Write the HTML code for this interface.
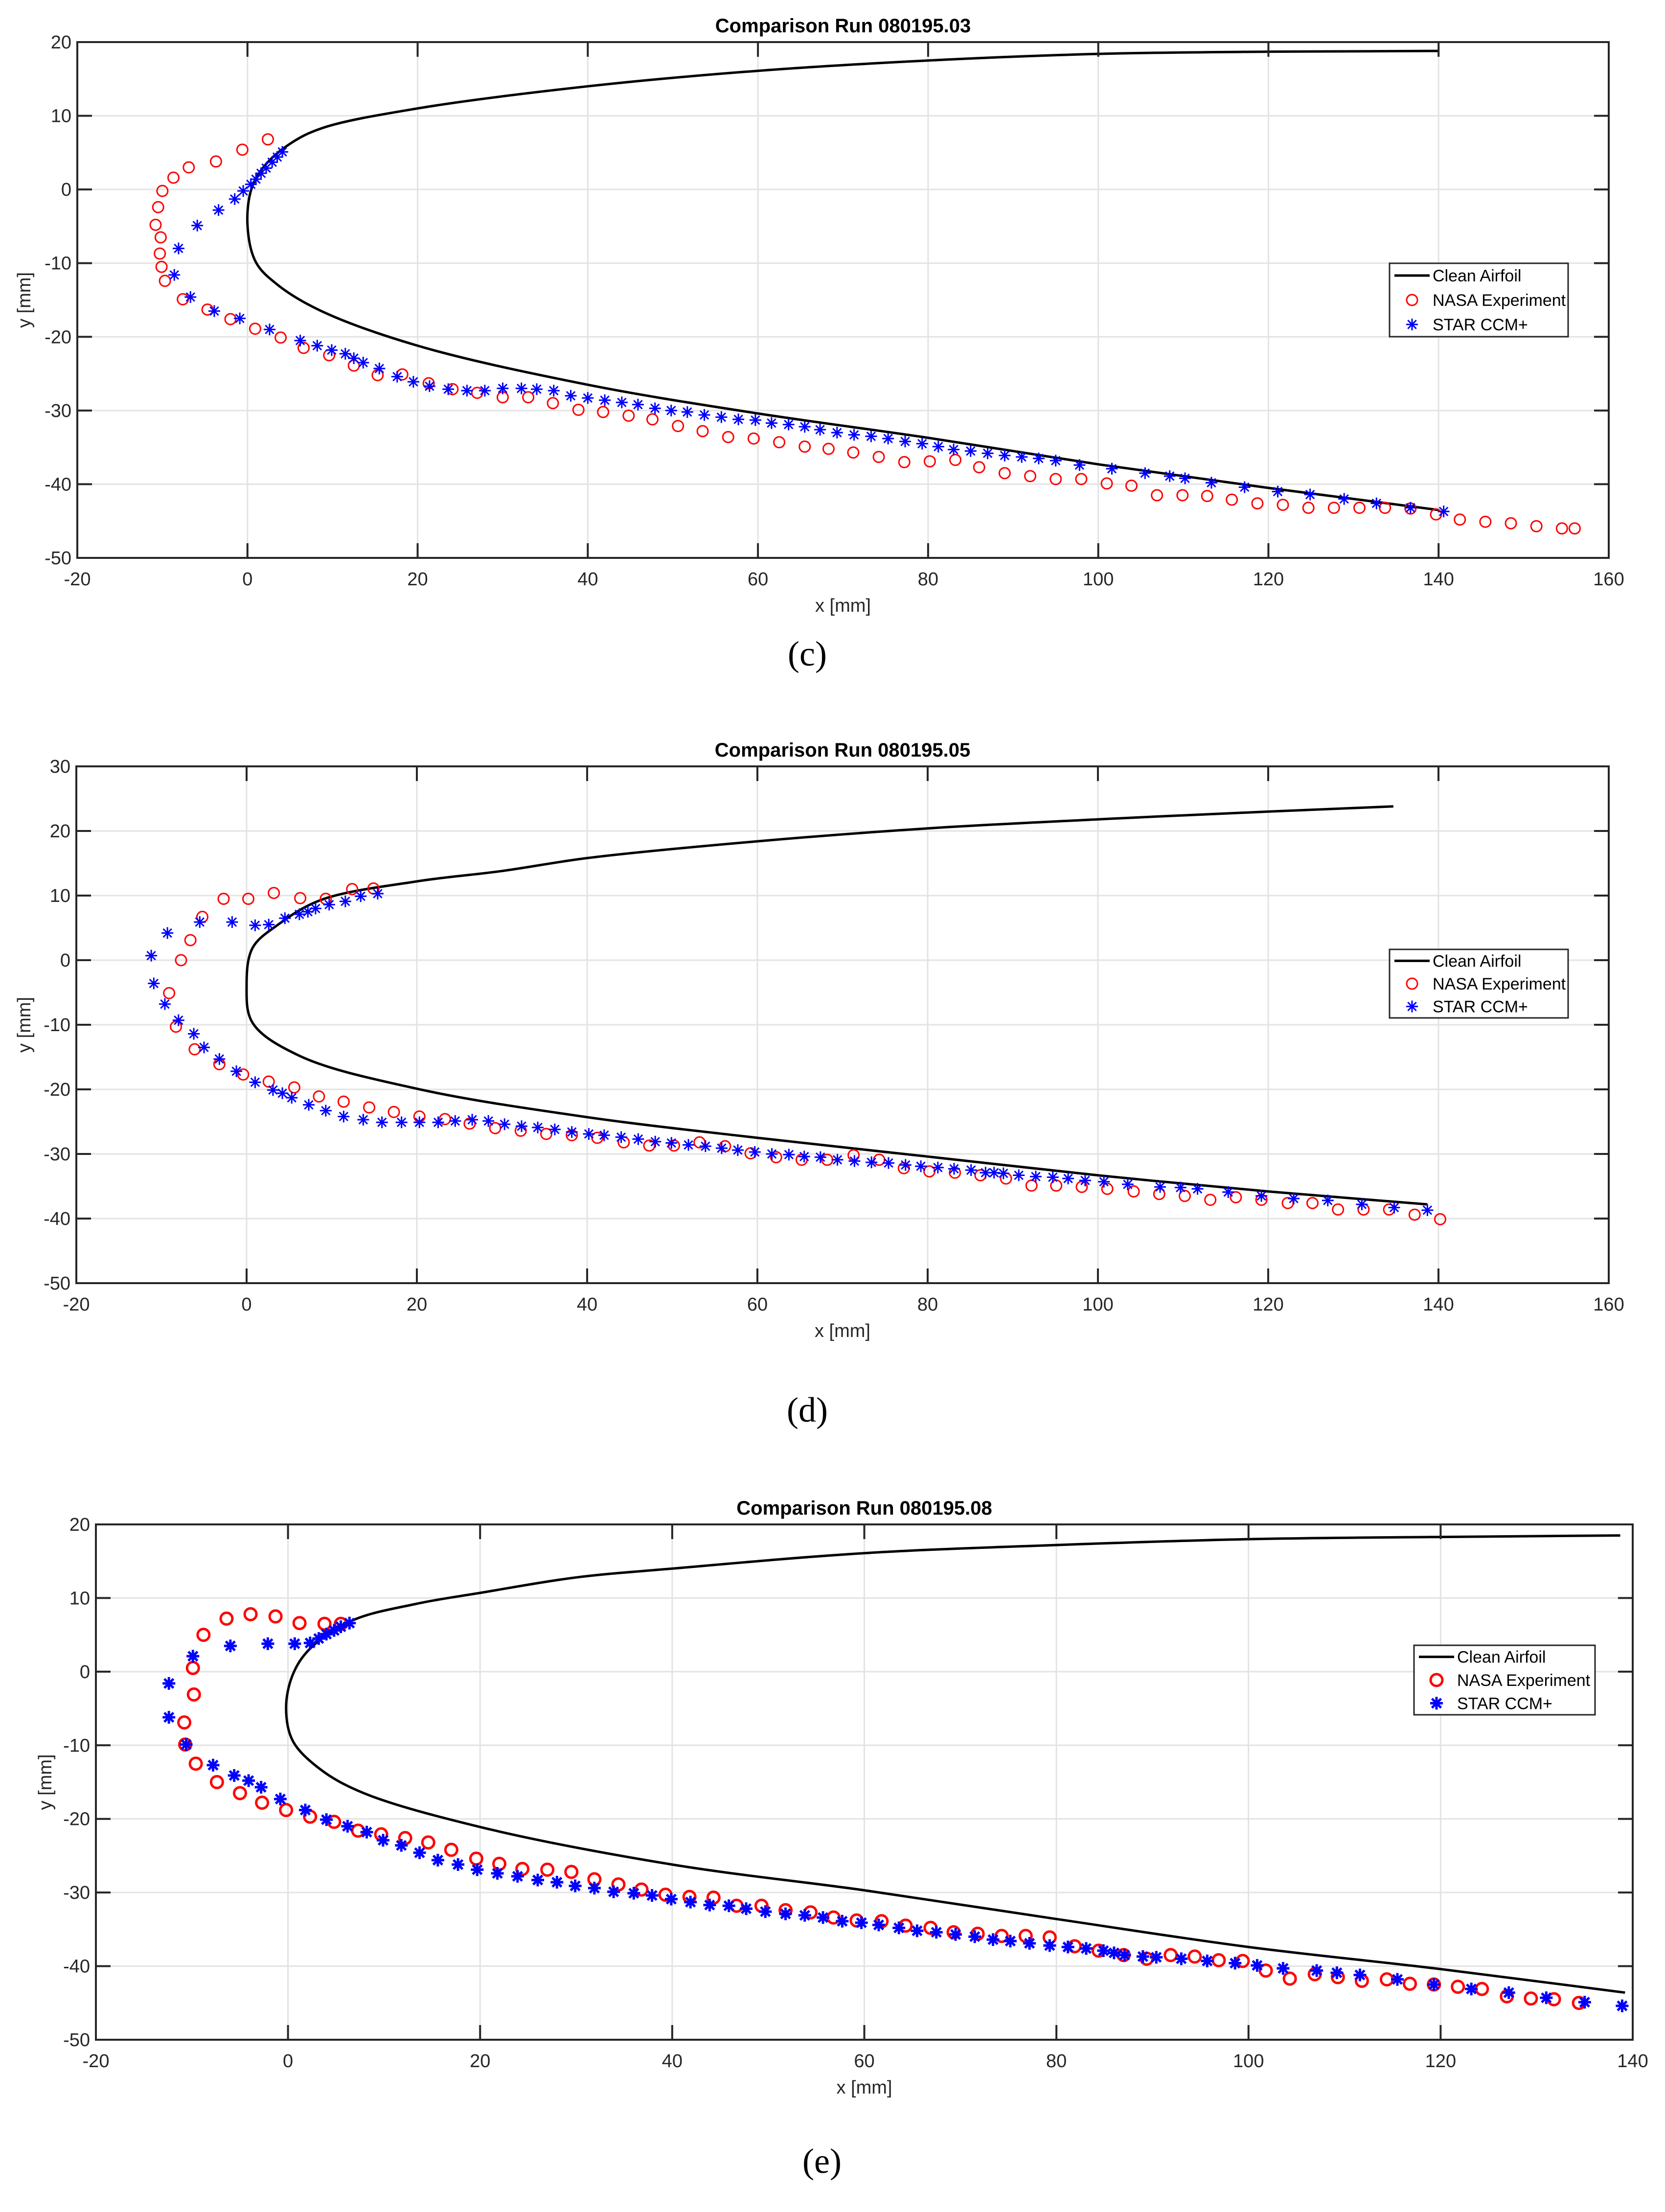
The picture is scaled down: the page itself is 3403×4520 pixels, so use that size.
<!DOCTYPE html>
<html><head><meta charset="utf-8"><style>
html,body{margin:0;padding:0;background:#fff;}
svg{display:block;}
</style></head><body>
<svg id="fig" xmlns="http://www.w3.org/2000/svg" width="3403" height="4520" viewBox="0 0 3403 4520"></svg>
<script>
// ---------- Chart (c) ----------
const p1AirX=[140,120,100,80,60,40,20,8.7,5,2,0.5,0,1,3.5,8.5,20,40,60,80,100,120,140];
const p1AirY=[18.8,18.7,18.4,17.5,16.1,14,11,8.3,6.2,3.2,0.2,-4.8,-9.9,-12.9,-16.4,-21.2,-26.5,-30.4,-33.7,-37.3,-40.5,-43.5];
const p1NasaX=[2.4,-0.6,-3.7,-6.9,-8.7,-10,-10.5,-10.8,-10.2,-10.3,-10.1,-9.7,-7.6,-4.7,-2,0.9,3.9,6.6,9.6,12.5,15.3,18.2,21.3,24.1,27,30,33,35.9,38.9,41.8,44.8,47.6,50.6,53.5,56.5,59.5,62.5,65.5,68.3,71.2,74.2,77.2,80.2,83.2,86,89,92,95,98,101,103.9,106.9,109.9,112.8,115.7,118.7,121.7,124.7,127.7,130.7,133.7,136.7,139.7,142.5,145.5,148.5,151.5,154.5,156];
const p1NasaY=[6.8,5.4,3.8,3.0,1.6,-0.2,-2.4,-4.8,-6.5,-8.7,-10.5,-12.4,-14.9,-16.3,-17.6,-18.9,-20.1,-21.5,-22.5,-23.9,-25.2,-25.1,-26.3,-27.1,-27.6,-28.2,-28.2,-29.0,-29.9,-30.2,-30.7,-31.2,-32.1,-32.8,-33.6,-33.8,-34.3,-34.9,-35.2,-35.7,-36.3,-37,-36.9,-36.7,-37.7,-38.5,-38.9,-39.3,-39.3,-39.9,-40.2,-41.5,-41.5,-41.6,-42.1,-42.6,-42.8,-43.2,-43.2,-43.2,-43.2,-43.3,-44.1,-44.8,-45.1,-45.3,-45.7,-46,-46];
const p1StarX=[4.1,3.5,2.9,2.2,1.6,1,0.4,-0.5,-1.5,-3.4,-5.9,-8.1,-8.6,-6.7,-3.9,-0.9,2.6,6.2,8.2,9.9,11.5,12.5,13.6,15.5,17.6,19.5,21.4,23.6,25.8,27.9,30,32.2,34,36,38,40,42,44,45.9,47.9,49.8,51.7,53.7,55.7,57.7,59.7,61.6,63.6,65.5,67.3,69.3,71.3,73.3,75.3,77.3,79.3,81.2,83,85,87,89,91,93,95,97.8,101.6,105.5,108.4,110.2,113.3,117.2,121.1,124.9,128.9,132.7,136.7,140.6];
const p1StarY=[5.1,4.4,3.7,2.9,2.2,1.4,0.7,-0.2,-1.3,-2.8,-4.9,-8,-11.6,-14.6,-16.5,-17.5,-19,-20.5,-21.2,-21.8,-22.3,-22.9,-23.5,-24.3,-25.4,-26.1,-26.7,-27.1,-27.3,-27.3,-27,-27,-27.1,-27.3,-28,-28.3,-28.6,-28.9,-29.2,-29.7,-30,-30.2,-30.6,-30.9,-31.2,-31.3,-31.7,-31.9,-32.2,-32.6,-33,-33.3,-33.5,-33.8,-34.2,-34.5,-34.9,-35.3,-35.5,-35.8,-36.1,-36.3,-36.5,-36.8,-37.4,-37.9,-38.5,-38.9,-39.2,-39.8,-40.4,-41,-41.4,-42,-42.6,-43.2,-43.7];
const p1XTicks=[-20,0,20,40,60,80,100,120,140,160];
const p1YTicks=[-50,-40,-30,-20,-10,0,10,20];

// ---------- Chart (d) ----------
const p2AirX=[134.7,120,100,80,60,40,30,20,8.7,3.7,0.7,0,0.7,6.2,20,40,60,80,100,120,138.7];
const p2AirY=[23.8,23,21.8,20.4,18.4,15.8,13.8,12.2,9.3,5.5,1.9,-3.9,-9.7,-14.8,-19.9,-24.3,-27.5,-30.4,-33.3,-35.8,-37.8];
const p2NasaX=[-2.7,0.2,3.2,6.3,9.3,12.4,14.9,-5.2,-6.6,-7.7,-9.1,-8.3,-6.1,-3.2,-0.4,2.6,5.6,8.5,11.4,14.4,17.3,20.3,23.3,26.2,29.2,32.2,35.2,38.2,41.2,44.3,47.3,50.2,53.2,56.2,59.2,62.2,65.2,68.2,71.3,74.3,77.2,80.2,83.2,86.2,89.2,92.2,95.1,98.1,101.1,104.2,107.2,110.2,113.2,116.2,119.2,122.3,125.2,128.2,131.2,134.2,137.2,140.2];
const p2NasaY=[9.5,9.5,10.4,9.6,9.5,11,11.1,6.7,3.1,0,-5.1,-10.3,-13.8,-16.1,-17.7,-18.8,-19.7,-21.1,-21.9,-22.8,-23.5,-24.2,-24.6,-25.3,-26,-26.4,-26.9,-27.1,-27.5,-28.2,-28.7,-28.7,-28.2,-28.8,-29.9,-30.5,-30.9,-30.9,-30.2,-30.9,-32.2,-32.7,-32.9,-33.3,-33.8,-34.9,-34.9,-35.1,-35.4,-35.8,-36.2,-36.5,-37.1,-36.7,-37.1,-37.6,-37.6,-38.6,-38.6,-38.6,-39.4,-40.1];
const p2StarX=[-11.2,-9.3,-5.5,-1.7,1,2.6,4.5,6.2,7.2,8.1,9.7,11.6,13.4,15.4,-10.9,-9.6,-8,-6.2,-5,-3.2,-1.2,1,3.1,4.2,5.3,7.3,9.3,11.4,13.7,15.9,18.2,20.3,22.5,24.5,26.5,28.4,30.3,32.3,34.2,36.2,38.2,40.2,42,44,46,48,49.9,51.9,53.9,55.8,57.7,59.7,61.7,63.7,65.5,67.4,69.4,71.4,73.4,75.4,77.4,79.2,81.2,83.1,85.1,86.8,87.8,88.9,90.7,92.7,94.7,96.5,98.5,100.7,103.5,107.3,109.7,111.7,115.3,119.2,123,127,131,134.8,138.7];
const p2StarY=[0.7,4.2,5.9,5.9,5.4,5.5,6.5,7.1,7.5,8,8.6,9.1,9.9,10.3,-3.6,-6.8,-9.3,-11.4,-13.5,-15.3,-17.2,-18.9,-20.1,-20.6,-21.3,-22.4,-23.3,-24.2,-24.7,-25.1,-25.1,-25.1,-25.1,-24.9,-24.7,-24.9,-25.4,-25.7,-25.9,-26.2,-26.6,-26.9,-27.1,-27.4,-27.7,-28.1,-28.3,-28.6,-28.8,-29.1,-29.4,-29.7,-30,-30.1,-30.4,-30.5,-30.9,-31.1,-31.3,-31.4,-31.7,-31.9,-32.1,-32.3,-32.5,-32.9,-32.9,-33,-33.3,-33.5,-33.6,-33.8,-34.1,-34.3,-34.7,-35.1,-35.2,-35.4,-35.9,-36.5,-36.9,-37.2,-37.8,-38.3,-38.7];
const p2XTicks=[-20,0,20,40,60,80,100,120,140,160];
const p2YTicks=[-50,-40,-30,-20,-10,0,10,20,30];

// ---------- Chart (e) ----------
const p3AirX=[138.7,120,100,80,60,40,30,20,13.3,6.6,2.2,0.5,-0.2,0.5,3.3,7.7,20,40,60,80,100,120,139.2];
const p3AirY=[18.5,18.3,18,17.2,16.1,14,12.8,10.7,9.2,6.9,3.0,-0.4,-4.9,-9.4,-13.2,-16.4,-21.1,-26.2,-29.7,-33.6,-37.4,-40.4,-43.6];
const p3NasaX=[-6.4,-3.9,-1.3,1.2,3.8,5.5,-8.8,-9.9,-9.8,-10.8,-10.7,-9.6,-7.4,-5,-2.7,-0.2,2.3,4.8,7.3,9.7,12.2,14.6,17,19.6,22,24.4,27,29.5,31.9,34.4,36.8,39.3,41.8,44.3,46.7,49.3,51.8,54.4,56.8,59.2,61.8,64.3,66.9,69.3,71.8,74.3,76.8,79.3,81.9,84.4,87,89.4,91.9,94.4,96.9,99.4,101.8,104.3,106.9,109.3,111.8,114.4,116.8,119.3,121.8,124.3,126.9,129.4,131.8,134.4];
const p3NasaY=[7.2,7.8,7.5,6.6,6.5,6.5,5,0.5,-3.1,-6.9,-9.9,-12.5,-15,-16.5,-17.8,-18.8,-19.7,-20.4,-21.6,-22.1,-22.6,-23.2,-24.2,-25.4,-26.1,-26.8,-26.9,-27.2,-28.2,-28.9,-29.6,-30.3,-30.6,-30.7,-31.8,-31.8,-32.4,-32.7,-33.4,-33.8,-33.9,-34.5,-34.8,-35.4,-35.6,-35.9,-35.9,-36.1,-37.3,-37.9,-38.5,-39,-38.5,-38.7,-39.2,-39.3,-40.6,-41.7,-41.1,-41.5,-42,-41.8,-42.4,-42.5,-42.8,-43.1,-44.1,-44.4,-44.5,-45];
const p3StarX=[-12.4,-12.4,-9.9,-6,-2.1,0.7,2.3,3.2,4,4.8,5.5,6.4,-10.6,-7.8,-5.6,-4.1,-2.8,-0.8,1.8,4,6.2,8.2,9.9,11.8,13.7,15.6,17.7,19.7,21.8,23.9,26,28,29.9,31.9,33.9,36,37.9,39.9,41.9,43.9,45.9,47.7,49.7,51.8,53.8,55.7,57.7,59.7,61.5,63.6,65.5,67.5,69.5,71.5,73.4,75.2,77.2,79.3,81.2,83.1,84.9,86,87.1,89,90.4,93,95.7,98.6,100.9,103.6,107.1,109.2,111.6,115.5,119.3,123.2,127.1,131,135,138.9];
const p3StarY=[-1.6,-6.2,2.1,3.5,3.8,3.8,3.9,4.5,5.1,5.6,6.1,6.6,-9.9,-12.7,-14.1,-14.8,-15.7,-17.3,-18.8,-20.1,-21,-21.8,-22.9,-23.6,-24.6,-25.6,-26.2,-26.9,-27.4,-27.8,-28.3,-28.6,-29.1,-29.4,-29.9,-30.1,-30.4,-30.9,-31.3,-31.7,-31.8,-32.2,-32.6,-32.9,-33.1,-33.4,-33.9,-34.1,-34.4,-34.8,-35.2,-35.4,-35.7,-36,-36.4,-36.6,-36.9,-37.2,-37.4,-37.6,-37.9,-38.2,-38.5,-38.7,-38.8,-39,-39.3,-39.6,-39.9,-40.3,-40.6,-40.9,-41.2,-41.8,-42.5,-43.1,-43.6,-44.3,-44.9,-45.4];
const p3XTicks=[-20,0,20,40,60,80,100,120,140];
const p3YTicks=[-50,-40,-30,-20,-10,0,10,20];

const NS='http://www.w3.org/2000/svg';
const svg=document.getElementById('fig');
function mk(tag,attrs,parent){const e=document.createElementNS(NS,tag);for(const k in attrs)e.setAttribute(k,attrs[k]);(parent||svg).appendChild(e);return e;}
function txt(s,attrs,parent){const e=mk('text',attrs,parent);e.textContent=s;return e;}
// centripetal Catmull-Rom -> cubic Bezier
function smoothPath(pts){
  const n=pts.length;
  const P=[[2*pts[0][0]-pts[1][0],2*pts[0][1]-pts[1][1]]].concat(pts,[[2*pts[n-1][0]-pts[n-2][0],2*pts[n-1][1]-pts[n-2][1]]]);
  const dist=(a,b)=>Math.max(1e-3,Math.pow(Math.hypot(b[0]-a[0],b[1]-a[1]),0.5));
  let d='M'+pts[0][0].toFixed(1)+','+pts[0][1].toFixed(1);
  for(let i=1;i<P.length-2;i++){
    const p0=P[i-1],p1=P[i],p2=P[i+1],p3=P[i+2];
    const d1=dist(p0,p1),d2=dist(p1,p2),d3=dist(p2,p3);
    const c1=[0,1].map(k=>{
      const m=(p1[k]-p0[k])/d1-(p2[k]-p0[k])/(d1+d2)+(p2[k]-p1[k])/d2;
      return p1[k]+m*d2/3;});
    const c2=[0,1].map(k=>{
      const m=(p2[k]-p1[k])/d2-(p3[k]-p1[k])/(d2+d3)+(p3[k]-p2[k])/d3;
      return p2[k]-m*d2/3;});
    d+=' C'+c1[0].toFixed(1)+','+c1[1].toFixed(1)+' '+c2[0].toFixed(1)+','+c2[1].toFixed(1)+' '+p2[0].toFixed(1)+','+p2[1].toFixed(1);
  }
  return d;
}
function star(g,cx,cy,r,sw){
  const s=r*0.72;
  const d='M'+(cx-r)+','+cy+'H'+(cx+r)+'M'+cx+','+(cy-r)+'V'+(cy+r)+'M'+(cx-s)+','+(cy-s)+'L'+(cx+s)+','+(cy+s)+'M'+(cx-s)+','+(cy+s)+'L'+(cx+s)+','+(cy-s);
  return mk('path',{d:d,stroke:'#0000ff','stroke-width':sw,fill:'none'},g);
}

function chart(o){
  const g=mk('g',{});
  
  
  const X=v=>o.L+(v-o.xmin)/(o.xmax-o.xmin)*(o.R-o.L);
  const Y=v=>o.B-(v-o.ymin)/(o.ymax-o.ymin)*(o.B-o.T);
  const grid=mk('g',{},g);
  
  
  o.xt.forEach(v=>{if(v>o.xmin&&v<o.xmax)mk('line',{x1:X(v),x2:X(v),y1:o.T,y2:o.B,stroke:'#e3e3e3','stroke-width':3},grid);});
  o.yt.forEach(v=>{if(v>o.ymin&&v<o.ymax)mk('line',{x1:o.L,x2:o.R,y1:Y(v),y2:Y(v),stroke:'#e3e3e3','stroke-width':3},grid);});
  const pts=o.ax.map((v,i)=>[X(v),Y(o.ay[i])]);
  const air=mk('path',{d:smoothPath(pts),stroke:'#000',fill:'none','stroke-width':5,'stroke-linejoin':'round'},g);
  
  
  const ng=mk('g',{},g);
  
  
  o.nx.forEach((v,i)=>{const c=mk('circle',{cx:X(v),cy:Y(o.ny[i]),r:o.cr,fill:'none',stroke:'#ff0000','stroke-width':o.csw},ng);
    
    });
  const sg=mk('g',{},g);
  
  
  o.sx.forEach((v,i)=>{const p=star(sg,X(v),Y(o.sy[i]),o.sr,o.ssw);
    
    });
  const box=mk('rect',{x:o.L,y:o.T,width:o.R-o.L,height:o.B-o.T,fill:'none',stroke:'#262626','stroke-width':4},g);
  
  
  const tl=30;
  o.xt.forEach(v=>{const x=X(v);
    mk('line',{x1:x,x2:x,y1:o.B,y2:o.B-tl,stroke:'#262626','stroke-width':4},g);
    mk('line',{x1:x,x2:x,y1:o.T,y2:o.T+tl,stroke:'#262626','stroke-width':4},g);
    const t=txt(String(v),{x:x,y:o.B+56,'font-size':38,'text-anchor':'middle',fill:'#262626','font-family':'Liberation Sans, sans-serif'},g);
    
    });
  o.yt.forEach(v=>{const y=Y(v);
    mk('line',{x1:o.L,x2:o.L+tl,y1:y,y2:y,stroke:'#262626','stroke-width':4},g);
    mk('line',{x1:o.R,x2:o.R-tl,y1:y,y2:y,stroke:'#262626','stroke-width':4},g);
    const t=txt(String(v),{x:o.L-12,y:y+13,'font-size':38,'text-anchor':'end',fill:'#262626','font-family':'Liberation Sans, sans-serif'},g);
    
    });
  const ti=txt(o.title,{x:(o.L+o.R)/2,y:o.T-20,'font-size':40,'font-weight':'bold','text-anchor':'middle',fill:'#000','font-family':'Liberation Sans, sans-serif'},g);
  
  
  const xl=txt('x [mm]',{x:(o.L+o.R)/2,y:o.B+110,'font-size':38,'text-anchor':'middle',fill:'#262626','font-family':'Liberation Sans, sans-serif'},g);
  
  
  const yc=(o.T+o.B)/2;
  const yl=txt('y [mm]',{x:o.ylx,y:yc,'font-size':38,'text-anchor':'middle',fill:'#262626','font-family':'Liberation Sans, sans-serif',transform:'rotate(-90 '+o.ylx+' '+yc+')'},g);
  
  
  const lg=mk('g',{},g);
  
  
  mk('rect',{x:o.lx,y:o.ly,width:o.lw,height:o.lh,fill:'#fff',stroke:'#262626','stroke-width':3},lg);
  const rh=o.lh/3;
  const labels=['Clean Airfoil','NASA Experiment','STAR CCM+'];
  labels.forEach((s,i)=>{
    const cy=o.ly+rh*(i+0.5);
    if(i===0)mk('line',{x1:o.lx+10,x2:o.lx+82,y1:cy,y2:cy,stroke:'#000','stroke-width':5},lg);
    if(i===1)mk('circle',{cx:o.lx+46,cy:cy,r:o.cr,fill:'none',stroke:'#ff0000','stroke-width':o.csw},lg);
    if(i===2)star(lg,o.lx+46,cy,o.sr,o.ssw);
    const t=txt(s,{x:o.lx+88,y:cy+12,'font-size':34,fill:'#000','font-family':'Liberation Sans, sans-serif'},lg);
    
    
  });
  const cap=txt(o.cap,{x:o.capX,y:o.capY,'font-size':72,'text-anchor':'middle',fill:'#000','font-family':'Liberation Serif, serif'},g);
  
  
}

chart({name:'chart-c',title:'Comparison Run 080195.03',cap:'(c)',L:158,R:3288,T:86,B:1140,xmin:-20,xmax:160,ymin:-50,ymax:20,
  xt:p1XTicks,yt:p1YTicks,ax:p1AirX,ay:p1AirY,nx:p1NasaX,ny:p1NasaY,sx:p1StarX,sy:p1StarY,
  cr:11,csw:3,sr:12,ssw:3,ylx:62,lx:2840,ly:538,lw:365,lh:150,capX:1650,capY:1360});
chart({name:'chart-d',title:'Comparison Run 080195.05',cap:'(d)',L:156,R:3288,T:1566,B:2622,xmin:-20,xmax:160,ymin:-50,ymax:30,
  xt:p2XTicks,yt:p2YTicks,ax:p2AirX,ay:p2AirY,nx:p2NasaX,ny:p2NasaY,sx:p2StarX,sy:p2StarY,
  cr:11,csw:3,sr:12,ssw:3,ylx:62,lx:2840,ly:1940,lw:365,lh:140,capX:1650,capY:2905});
chart({name:'chart-e',title:'Comparison Run 080195.08',cap:'(e)',L:196,R:3337,T:3115,B:4168,xmin:-20,xmax:140,ymin:-50,ymax:20,
  xt:p3XTicks,yt:p3YTicks,ax:p3AirX,ay:p3AirY,nx:p3NasaX,ny:p3NasaY,sx:p3StarX,sy:p3StarY,
  cr:12,csw:5,sr:13,ssw:5,ylx:105,lx:2890,ly:3362,lw:370,lh:142,capX:1680,capY:4440});
</script>
</body></html>
